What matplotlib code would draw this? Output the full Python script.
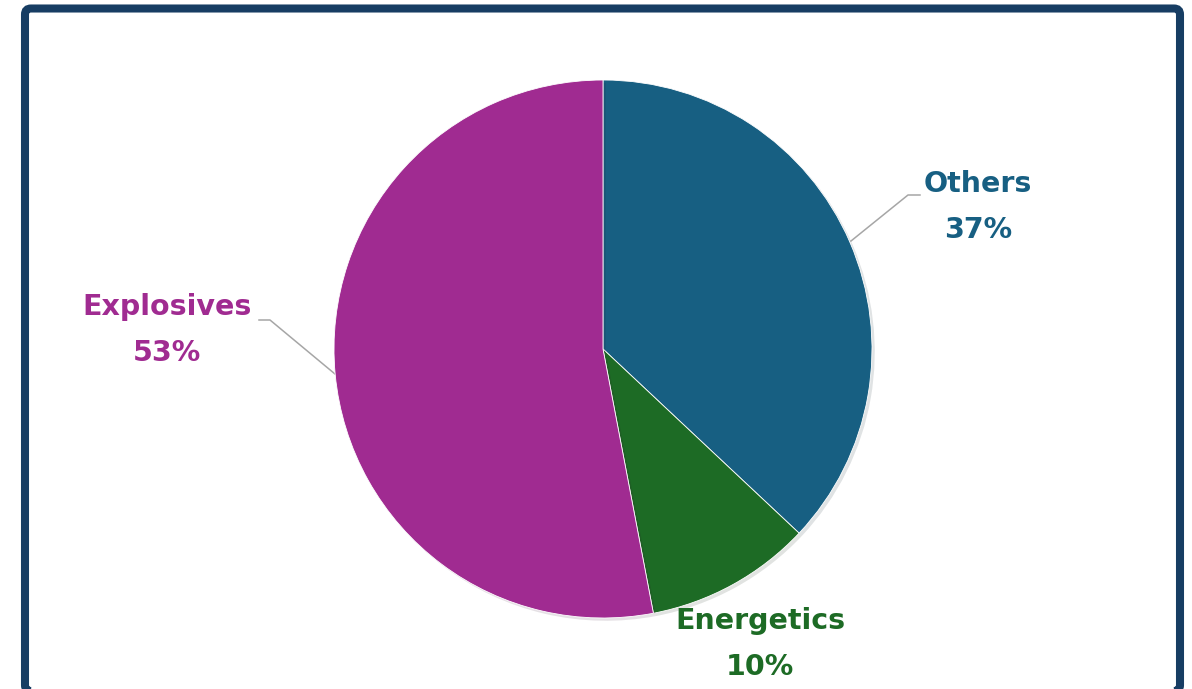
#!/usr/bin/env python3
"""Pie chart: share of Others / Energetics / Explosives."""

import matplotlib.pyplot as plt
from matplotlib.patches import FancyBboxPatch
import matplotlib.patheffects as pe

categories = ["Others", "Energetics", "Explosives"]
shares = [37, 10, 53]
colors = ["#175F82", "#1D6B25", "#A02B91"]

W, H = 1192, 689


def main():
    fig = plt.figure(figsize=(W / 100, H / 100), dpi=100)
    ax = fig.add_axes([0, 0, 1, 1])

    # frame around the chart area (bottom edge runs off the picture)
    frame = FancyBboxPatch((25, -2), 1155, H - 6.5, boxstyle="round,pad=0,rounding_size=6",
                           fill=False, edgecolor="#173D63", linewidth=5.8, zorder=1)
    ax.add_patch(frame)

    cx, cy, r = 603, H - 349, 269
    wedges, _ = ax.pie(shares, colors=colors, startangle=90, counterclock=False,
                       center=(cx, cy), radius=r, frame=True,
                       wedgeprops=dict(linewidth=0.6, edgecolor="white"))
    for w in wedges:
        w.set_path_effects([pe.SimplePatchShadow(offset=(2, -2), alpha=0.12), pe.Normal()])
    ax.set_xlim(0, W)
    ax.set_ylim(0, H)
    ax.set_aspect("equal")
    ax.axis("off")

    font = dict(family=["DejaVu Sans"], fontsize=20.5, fontweight="bold",
                ha="center", va="center", linespacing=1.78)
    label_pos = [(978, H - 207), (760, H - 644), (167, H - 330)]
    for name, val, col, (x, y) in zip(categories, shares, colors, label_pos):
        ax.text(x, y, f"{name}\n{val}%", color=col, **font)

    # leader lines
    ax.plot([851, 908, 920], [H - 241, H - 195, H - 195], color="#A6A6A6", lw=1.1, zorder=0.5)
    ax.plot([259, 270, 335], [H - 320, H - 320, H - 374], color="#A6A6A6", lw=1.1, zorder=0.5)

    fig.savefig("out.png", dpi=100, facecolor="white")


if __name__ == "__main__":
    main()
